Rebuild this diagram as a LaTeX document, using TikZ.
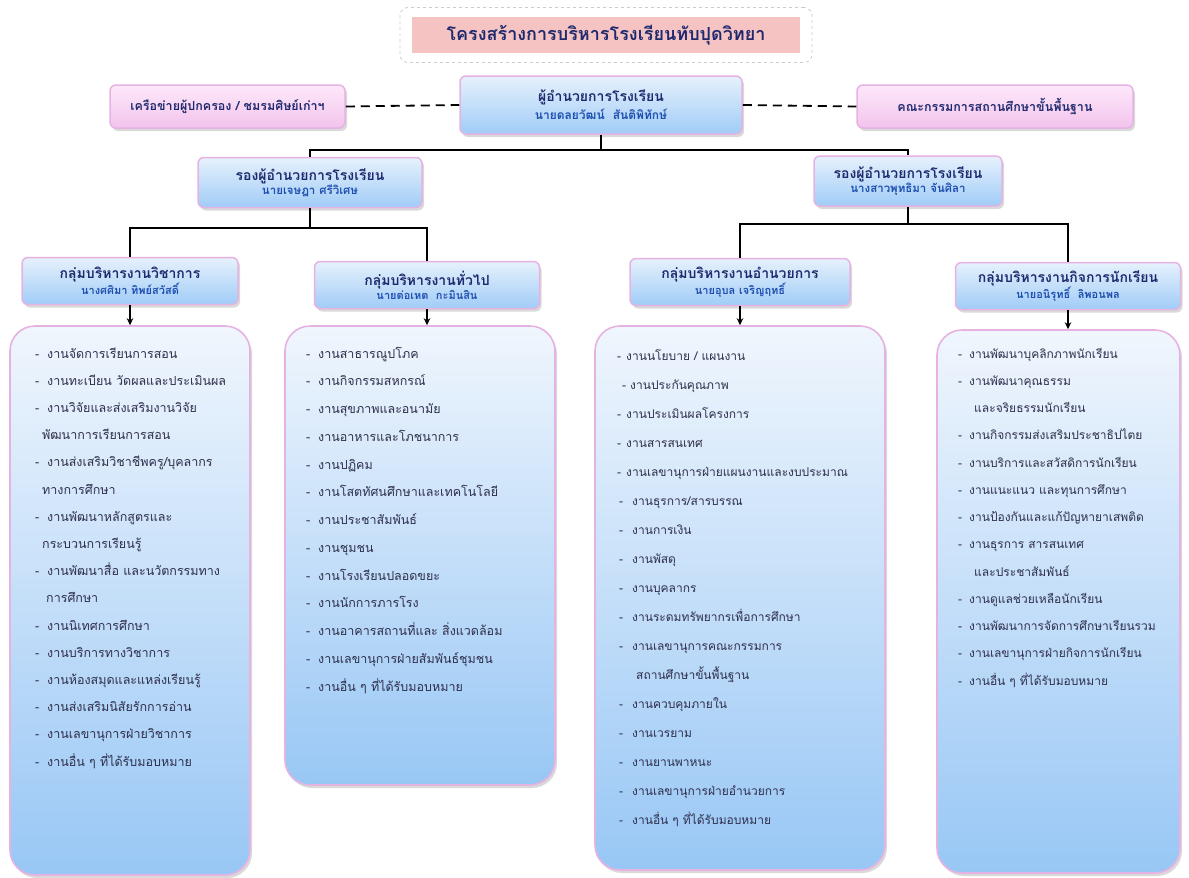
\documentclass[tikz,border=0pt]{standalone}
\usepackage{fontspec}
\setmainfont[Script=Thai]{Loma}
\usetikzlibrary{shadows,arrows.meta}
\definecolor{navy}{HTML}{1F2A6E}
\definecolor{nameblue}{HTML}{1E4FB0}
\definecolor{listtxt}{HTML}{2F2F4C}
\definecolor{boxpink}{HTML}{E6B2E2}
\definecolor{hdrtop}{HTML}{E6F1FC}
\definecolor{hdrbot}{HTML}{A0CCF7}
\definecolor{lsttop}{HTML}{F0F6FD}
\definecolor{lstbot}{HTML}{98C7F5}
\definecolor{sidetop}{HTML}{FDE8FA}
\definecolor{sidebot}{HTML}{F3C3EC}
\definecolor{titlepink}{HTML}{F6C3C3}
\newcommand\dsh[1]{\makebox[#1pt][l]{-}}
\begin{document}
\begin{tikzpicture}[x=1pt,y=-1pt,
  shd/.style={drop shadow={opacity=0.3,shadow xshift=2pt,shadow yshift=-3pt}},
  hdr/.style={shd,draw=boxpink,line width=1.5pt,rounded corners=6pt,top color=hdrtop,bottom color=hdrbot,align=center,inner sep=0pt},
  side/.style={shd,draw=boxpink,line width=1.5pt,rounded corners=6pt,top color=sidetop,bottom color=sidebot,align=center,inner sep=0pt,font=\fontsize{12.5}{14}\selectfont\bfseries,text=navy},
  lst/.style={shd,draw=boxpink,line width=1.6pt,rounded corners=25pt,top color=lsttop,bottom color=lstbot,inner sep=0pt},
  item/.style={anchor=west,inner sep=0pt,text height=9pt,text depth=3pt,font=\fontsize{12.5}{14}\selectfont,text=listtxt},
  itemc/.style={item,font=\fontsize{12}{14}\selectfont},
  ttl/.style={font=\fontsize{14}{17}\selectfont\bfseries,text=navy},
  nm/.style={font=\fontsize{11.5}{14}\selectfont\bfseries,text=nameblue},
  conn/.style={line width=1.8pt,black},
  arr/.style={line width=1.4pt,black,-{Stealth[length=7pt,width=6.5pt]}},
  dsl/.style={line width=1.8pt,black,dash pattern=on 9pt off 6pt}]
\useasboundingbox (0,0) rectangle (1189,878);
% title
\node[draw=gray!40,dashed,line width=0.8pt,rounded corners=8pt,minimum width=412pt,minimum height=55pt,inner sep=0pt] (tframe) at (606,35) {};
\node[fill=titlepink,minimum width=388pt,minimum height=36pt,inner sep=0pt,font=\fontsize{18}{20}\selectfont\bfseries,text=navy] (title) at (606,35) {โครงสร้างการบริหารโรงเรียนทับปุดวิทยา};
% director
\node[hdr,minimum width=282pt,minimum height=58pt] (dir) at (601,105)
  {{\fontsize{14}{17}\selectfont\bfseries\color{navy}ผู้อำนวยการโรงเรียน}\\[3pt]{\fontsize{12}{14}\selectfont\bfseries\color{nameblue}นายดลยวัฒน์\ \ สันติพิทักษ์}};
\node[side,minimum width=235pt,minimum height=43pt] (sideL) at (227.5,106.5) {เครือข่ายผู้ปกครอง / ชมรมศิษย์เก่าฯ};
\node[side,minimum width=276pt,minimum height=43pt] (sideR) at (995,106.5) {คณะกรรมการสถานศึกษาขั้นพื้นฐาน};
\draw[dsl] (sideL.east) -- (dir.west);
\draw[dsl] (dir.east) -- (sideR.west);
% deputies
\node[hdr,minimum width=224pt,minimum height=50pt] (depL) at (310,182.5)
  {{\fontsize{14}{17}\selectfont\bfseries\color{navy}รองผู้อำนวยการโรงเรียน}\\{\fontsize{11.5}{14}\selectfont\bfseries\color{nameblue}นายเจษฎา ศรีวิเศษ}};
\node[hdr,minimum width=188pt,minimum height=50pt] (depR) at (908,181)
  {{\fontsize{14}{17}\selectfont\bfseries\color{navy}รองผู้อำนวยการโรงเรียน}\\{\fontsize{11.5}{14}\selectfont\bfseries\color{nameblue}นางสาวพุทธิมา จันศิลา}};
\draw[conn] (dir.south) -- ++(0,15) coordinate (j0);
\draw[conn] (depL.north) |- (j0) -| (depR.north);
% groups
\node[hdr,minimum width=216pt,minimum height=47pt] (g1) at (130,281)
  {{\fontsize{14}{17}\selectfont\bfseries\color{navy}กลุ่มบริหารงานวิชาการ}\\{\fontsize{11}{14}\selectfont\bfseries\color{nameblue}นางศศิมา ทิพย์สวัสดิ์}};
\node[hdr,minimum width=225pt,minimum height=47pt] (g2) at (427,285)
  {{\fontsize{14}{17}\selectfont\bfseries\color{navy}กลุ่มบริหารงานทั่วไป}\\{\fontsize{11}{14}\selectfont\bfseries\color{nameblue}นายต่อเหต\ \ กะมินสิน}};
\node[hdr,minimum width=220pt,minimum height=47pt] (g3) at (740,282)
  {{\fontsize{14}{17}\selectfont\bfseries\color{navy}กลุ่มบริหารงานอำนวยการ}\\{\fontsize{11}{14}\selectfont\bfseries\color{nameblue}นายอุบล เจริญฤทธิ์}};
\node[hdr,minimum width=225pt,minimum height=47pt] (g4) at (1068,286)
  {{\fontsize{14}{17}\selectfont\bfseries\color{navy}กลุ่มบริหารงานกิจการนักเรียน}\\{\fontsize{11}{14}\selectfont\bfseries\color{nameblue}นายอนิรุทธิ์\ \ ลิพอนพล}};
\draw[conn] (depL.south) -- ++(0,20) coordinate (j1);
\draw[conn] (g1.north) |- (j1) -| (g2.north);
\draw[conn] (depR.south) -- ++(0,17) coordinate (j2);
\draw[conn] (g3.north) |- (j2) -| (g4.north);
% list boxes
\node[lst,minimum width=240pt,minimum height=549pt] (L1) at (130,600.5) {};
\node[lst,minimum width=270pt,minimum height=459pt] (L2) at (420,555.5) {};
\node[lst,minimum width=290pt,minimum height=544pt] (L3) at (740,598) {};
\node[lst,minimum width=243pt,minimum height=543pt] (L4) at (1058.5,601.5) {};
\draw[arr] (g1.south) -- (g1.south |- L1.north);
\draw[arr] (g2.south) -- (g2.south |- L2.north);
\draw[arr] (g3.south) -- (g3.south |- L3.north);
\draw[arr] (g4.south) -- (g4.south |- L4.north);
% list 1
\foreach \xo/\t [count=\i] in {
  0/{\dsh{12}งานจัดการเรียนการสอน},
  0/{\dsh{12}งานทะเบียน วัดผลและประเมินผล},
  0/{\dsh{12}งานวิจัยและส่งเสริมงานวิจัย},
  7/{พัฒนาการเรียนการสอน},
  0/{\dsh{12}งานส่งเสริมวิชาชีพครู/บุคลากร},
  7/{ทางการศึกษา},
  0/{\dsh{12}งานพัฒนาหลักสูตรและ},
  7/{กระบวนการเรียนรู้},
  0/{\dsh{12}งานพัฒนาสื่อ และนวัตกรรมทาง},
  11/{การศึกษา},
  0/{\dsh{12}งานนิเทศการศึกษา},
  0/{\dsh{12}งานบริการทางวิชาการ},
  0/{\dsh{12}งานห้องสมุดและแหล่งเรียนรู้},
  0/{\dsh{12}งานส่งเสริมนิสัยรักการอ่าน},
  0/{\dsh{12}งานเลขานุการฝ่ายวิชาการ},
  0/{\dsh{12}งานอื่น ๆ ที่ได้รับมอบหมาย}}
  \node[item] (La\i) at (35+\xo,355+27.2*\i-27.2) {\t};
% list 2
\foreach \xo/\t [count=\i] in {
  0/{\dsh{12}งานสาธารณูปโภค},
  0/{\dsh{12}งานกิจกรรมสหกรณ์},
  0/{\dsh{12}งานสุขภาพและอนามัย},
  0/{\dsh{12}งานอาหารและโภชนาการ},
  0/{\dsh{12}งานปฏิคม},
  0/{\dsh{12}งานโสตทัศนศึกษาและเทคโนโลยี},
  0/{\dsh{12}งานประชาสัมพันธ์},
  0/{\dsh{12}งานชุมชน},
  0/{\dsh{12}งานโรงเรียนปลอดขยะ},
  0/{\dsh{12}งานนักการภารโรง},
  0/{\dsh{12}งานอาคารสถานที่และ สิ่งแวดล้อม},
  0/{\dsh{12}งานเลขานุการฝ่ายสัมพันธ์ชุมชน},
  0/{\dsh{12}งานอื่น ๆ ที่ได้รับมอบหมาย}}
  \node[item] (Lb\i) at (306+\xo,355+27.75*\i-27.75) {\t};
% list 3
\foreach \xo/\t [count=\i] in {
  0/{\dsh{9}งานนโยบาย / แผนงาน},
  5/{\dsh{8}งานประกันคุณภาพ},
  0/{\dsh{9}งานประเมินผลโครงการ},
  0/{\dsh{9}งานสารสนเทศ},
  0/{\dsh{9}งานเลขานุการฝ่ายแผนงานและงบประมาณ},
  2/{\dsh{13}งานธุรการ/สารบรรณ},
  2/{\dsh{13}งานการเงิน},
  2/{\dsh{13}งานพัสดุ},
  2/{\dsh{13}งานบุคลากร},
  2/{\dsh{13}งานระดมทรัพยากรเพื่อการศึกษา},
  2/{\dsh{13}งานเลขานุการคณะกรรมการ},
  19/{สถานศึกษาขั้นพื้นฐาน},
  2/{\dsh{13}งานควบคุมภายใน},
  2/{\dsh{13}งานเวรยาม},
  2/{\dsh{13}งานยานพาหนะ},
  2/{\dsh{13}งานเลขานุการฝ่ายอำนวยการ},
  2/{\dsh{13}งานอื่น ๆ ที่ได้รับมอบหมาย}}
  \node[itemc] (Lc\i) at (617+\xo,357+29*\i-29) {\t};
% list 4
\foreach \xo/\t [count=\i] in {
  0/{\dsh{11}งานพัฒนาบุคลิกภาพนักเรียน},
  0/{\dsh{11}งานพัฒนาคุณธรรม},
  16/{และจริยธรรมนักเรียน},
  0/{\dsh{11}งานกิจกรรมส่งเสริมประชาธิปไตย},
  0/{\dsh{11}งานบริการและสวัสดิการนักเรียน},
  0/{\dsh{11}งานแนะแนว และทุนการศึกษา},
  0/{\dsh{11}งานป้องกันและแก้ปัญหายาเสพติด},
  0/{\dsh{11}งานธุรการ สารสนเทศ},
  16/{และประชาสัมพันธ์},
  0/{\dsh{11}งานดูแลช่วยเหลือนักเรียน},
  0/{\dsh{11}งานพัฒนาการจัดการศึกษาเรียนรวม},
  0/{\dsh{11}งานเลขานุการฝ่ายกิจการนักเรียน},
  0/{\dsh{11}งานอื่น ๆ ที่ได้รับมอบหมาย}}
  \node[itemc] (Ld\i) at (958+\xo,355+27.25*\i-27.25) {\t};
\end{tikzpicture}
\end{document}
